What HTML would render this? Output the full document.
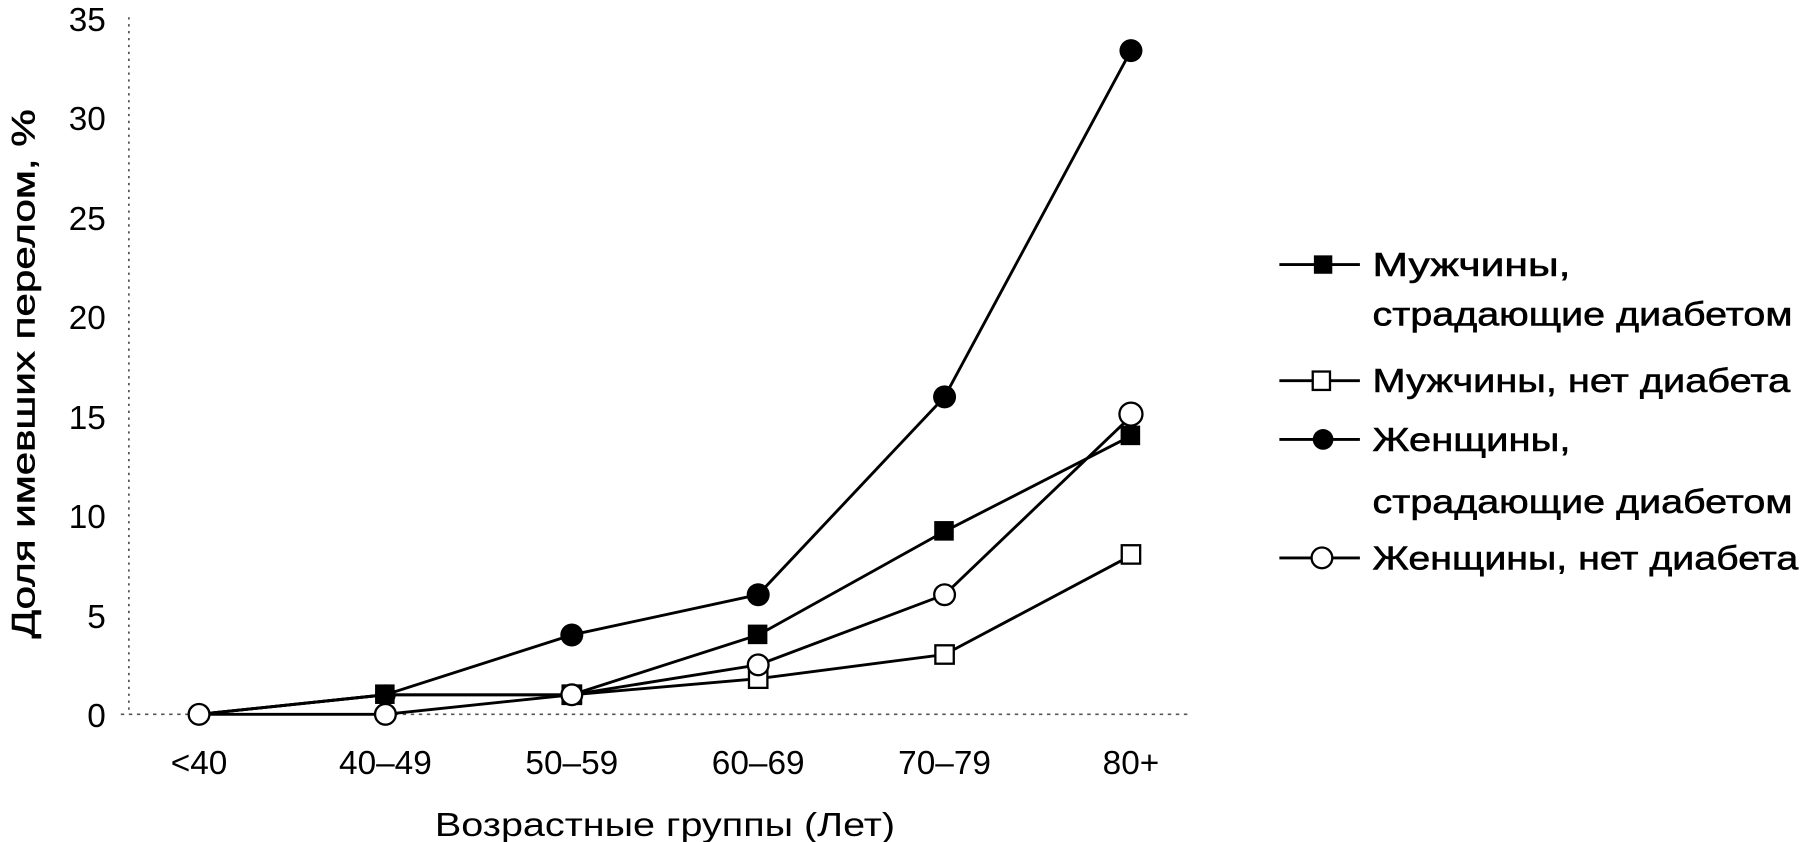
<!DOCTYPE html>
<html><head><meta charset="utf-8"><style>
html,body{margin:0;padding:0;background:#fff;}
svg{display:block;}
text{font-family:"Liberation Sans",sans-serif;fill:#000;}
</style></head><body>
<svg width="1804" height="842" viewBox="0 0 1568 732" preserveAspectRatio="none" xmlns="http://www.w3.org/2000/svg">
<line x1="112" y1="15" x2="112" y2="621" stroke="#555" stroke-width="1.5" stroke-dasharray="2,4"/>
<line x1="105" y1="621" x2="1035" y2="621" stroke="#555" stroke-width="1.5" stroke-dasharray="3,4"/>
<g font-size="29" text-anchor="end">
<text x="92" y="632">0</text>
<text x="92" y="546">5</text>
<text x="92" y="459">10</text>
<text x="92" y="373">15</text>
<text x="92" y="286">20</text>
<text x="92" y="200">25</text>
<text x="92" y="113">30</text>
<text x="92" y="27">35</text>
</g>
<g font-size="29" text-anchor="middle">
<text x="173" y="673">&lt;40</text>
<text x="335" y="673">40–49</text>
<text x="497" y="673">50–59</text>
<text x="659" y="673">60–69</text>
<text x="821" y="673">70–79</text>
<text x="983" y="673">80+</text>
<text x="578" y="727" textLength="400" lengthAdjust="spacingAndGlyphs">Возрастные группы (Лет)</text>
</g>
<text transform="translate(30,325) rotate(-90)" font-size="28" text-anchor="middle" textLength="460" lengthAdjust="spacingAndGlyphs" stroke="#000" stroke-width="0.5">Доля имевших перелом, %</text>
<g stroke="#000" stroke-width="2.5" fill="none">
<polyline points="173,621 335,604 497,604 659,552 821,462 983,379"/>
<polyline points="173,621 335,604 497,604 659,590 821,569 983,483"/>
<polyline points="173,621 335,604 497,552 659,517 821,345 983,44"/>
<polyline points="173,621 335,621 497,604 659,578 821,517 983,362"/>
</g>
<g fill="#000">
<rect x="326" y="595" width="17" height="17"/><rect x="489" y="595" width="17" height="17"/><rect x="650" y="543" width="17" height="17"/><rect x="812" y="453" width="17" height="17"/><rect x="974" y="370" width="17" height="17"/>
</g>
<g fill="#fff" stroke="#000" stroke-width="2">
<rect x="489" y="596" width="16" height="16"/><rect x="651" y="582" width="16" height="16"/><rect x="813" y="561" width="16" height="16"/><rect x="975" y="474" width="16" height="16"/>
</g>
<g fill="#000">
<circle cx="335" cy="604" r="9"/><circle cx="497" cy="552" r="10"/><circle cx="659" cy="517" r="10"/><circle cx="821" cy="345" r="10"/><circle cx="983" cy="44" r="10"/>
</g>
<g fill="#fff" stroke="#000" stroke-width="2">
<circle cx="173" cy="621" r="9"/><circle cx="335" cy="621" r="9"/><circle cx="497" cy="604" r="9"/><circle cx="659" cy="578" r="9"/><circle cx="821" cy="517" r="9"/><circle cx="983" cy="360" r="10"/>
</g>
<g stroke="#000" stroke-width="2.5">
<line x1="1112" y1="230" x2="1182" y2="230"/>
<line x1="1112" y1="331" x2="1182" y2="331"/>
<line x1="1112" y1="382" x2="1182" y2="382"/>
<line x1="1112" y1="485" x2="1182" y2="485"/>
</g>
<rect x="1142" y="222" width="16" height="16" fill="#000"/>
<rect x="1141" y="323" width="15" height="16" fill="#fff" stroke="#000" stroke-width="2"/>
<circle cx="1150" cy="382" r="9" fill="#000"/>
<circle cx="1149" cy="485" r="9" fill="#fff" stroke="#000" stroke-width="2"/>
<g font-size="29" stroke="#000" stroke-width="0.5">
<text x="1193" y="240" textLength="172" lengthAdjust="spacingAndGlyphs">Мужчины,</text>
<text x="1193" y="283" textLength="365" lengthAdjust="spacingAndGlyphs">страдающие диабетом</text>
<text x="1193" y="341" textLength="363" lengthAdjust="spacingAndGlyphs">Мужчины, нет диабета</text>
<text x="1193" y="392" textLength="172" lengthAdjust="spacingAndGlyphs">Женщины,</text>
<text x="1193" y="446" textLength="365" lengthAdjust="spacingAndGlyphs">страдающие диабетом</text>
<text x="1193" y="495" textLength="370" lengthAdjust="spacingAndGlyphs">Женщины, нет диабета</text>
</g>
</svg>
</body></html>
